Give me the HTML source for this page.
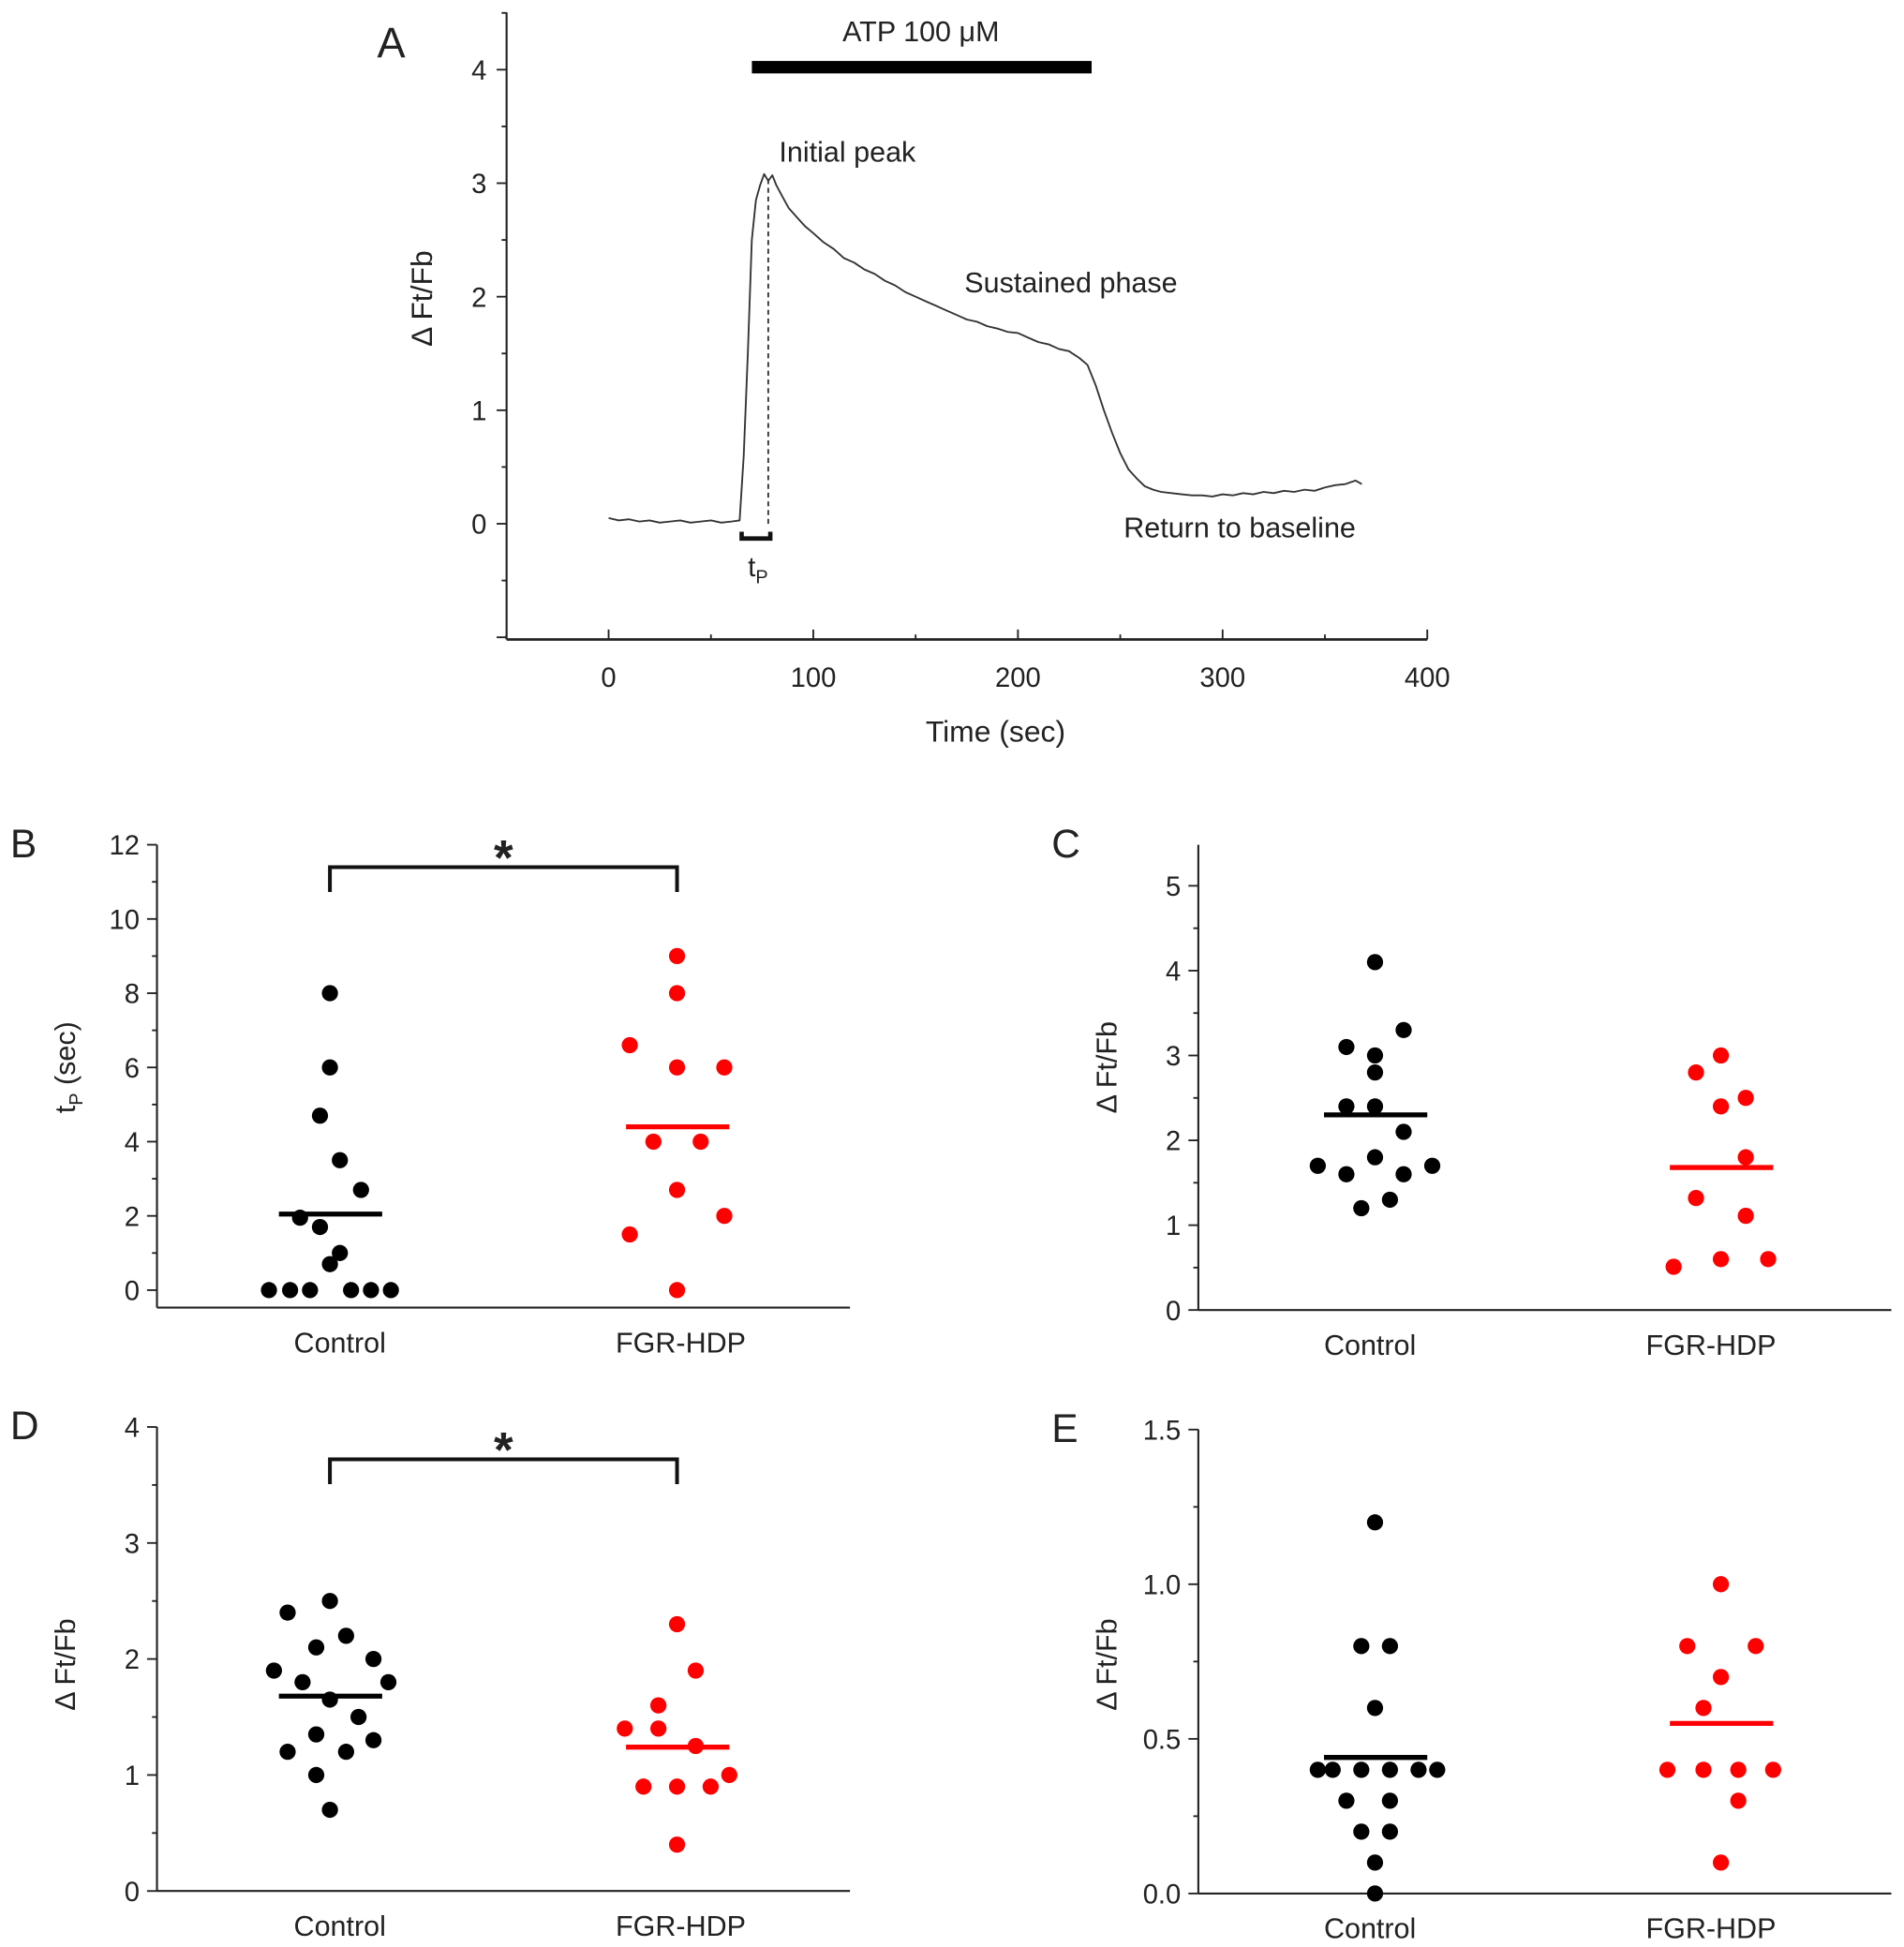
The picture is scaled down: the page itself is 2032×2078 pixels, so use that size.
<!DOCTYPE html>
<html><head><meta charset="utf-8"><style>
html,body{margin:0;padding:0;background:#fff}
svg{display:block}
text{font-family:"Liberation Sans",Arial,sans-serif;fill:#222}
</style></head><body>
<svg id="fig" width="2032" height="2078" viewBox="0 0 1530 1565" xmlns="http://www.w3.org/2000/svg"></svg>
<script>
// ---- Panel A data ----
const traceTimes = [0,5,10,15,20,25,30,35,40,45,50,55,60,64,66,68,70,72,74,76,78,80,82,85,88,92,96,100,105,110,115,120,125,130,135,140,145,150,155,160,165,170,175,180,185,190,195,200,205,210,215,220,225,230,234,238,242,246,250,254,258,262,266,270,275,280,285,290,295,300,305,310,315,320,325,330,335,340,345,350,355,360,365,368];
const traceValues = [0.05,0.03,0.04,0.02,0.03,0.01,0.02,0.03,0.01,0.02,0.03,0.01,0.02,0.03,0.6,1.5,2.5,2.85,2.98,3.08,3.02,3.07,2.98,2.88,2.78,2.7,2.62,2.56,2.48,2.42,2.34,2.3,2.24,2.2,2.14,2.1,2.04,2.0,1.96,1.92,1.88,1.84,1.8,1.78,1.74,1.72,1.69,1.68,1.64,1.6,1.58,1.54,1.52,1.46,1.4,1.22,1.0,0.8,0.62,0.48,0.4,0.33,0.3,0.28,0.27,0.26,0.25,0.25,0.24,0.26,0.25,0.27,0.26,0.28,0.27,0.29,0.28,0.3,0.29,0.32,0.34,0.35,0.38,0.35];
const aXTicks = [0,100,200,300,400];
const aYTicks = [0,1,2,3,4];

// ---- Panel B data (tP sec) ----
const bControl = [0,0,0,0,0,0,0.7,1,1.7,1.95,2.7,3.5,4.7,6,8];
const bControlJitter = [-49,-32,-16,17,33,49,0,8,-8,-24,25,8,-8,0,0];
const bFgr = [9,8,6.6,6,6,4,4,2.7,2,1.5,0];
const bFgrJitter = [0,0,-38,0,38,-19,19,0,38,-38,0];
const bMeans = [2.05,4.4];
const bYTicks = [0,2,4,6,8,10,12];

// ---- Panel C data ----
const cControl = [4.1,3.1,3.3,3.0,2.8,2.4,2.4,2.1,1.7,1.7,1.6,1.8,1.6,1.3,1.2];
const cControlJitter = [0,-23,23,0,0,-23,0,23,-46,46,-23,0,23,12,-11];
const cFgr = [3.0,2.8,2.5,2.4,1.8,1.32,1.11,0.51,0.6,0.6];
const cFgrJitter = [0,-20,20,0,20,-20,20,-38,0,38];
const cMeans = [2.3,1.68];
const cYTicks = [0,1,2,3,4,5];

// ---- Panel D data ----
const dControl = [2.5,2.4,2.2,2.1,1.9,1.8,2.0,1.8,1.65,1.5,1.3,1.35,1.2,1.2,1.0,0.7];
const dControlJitter = [0,-34,13,-11,-45,-22,35,47,0,23,35,-11,-34,13,-11,0];
const dFgr = [2.3,1.9,1.6,1.4,1.4,1.25,1.0,0.9,0.9,0.9,0.4];
const dFgrJitter = [0,15,-15,-42,-15,15,42,-27,0,27,0];
const dMeans = [1.68,1.24];
const dYTicks = [0,1,2,3,4];

// ---- Panel E data ----
const eControl = [1.2,0.8,0.8,0.6,0.4,0.4,0.4,0.4,0.4,0.4,0.3,0.3,0.2,0.2,0.1,0.0];
const eControlJitter = [0,-11,12,0,-46,-34,-11,12,35,50,-23,12,-11,12,0,0];
const eFgr = [1.0,0.8,0.8,0.7,0.6,0.4,0.4,0.4,0.4,0.3,0.1];
const eFgrJitter = [0,-27,28,0,-14,-43,-14,14,42,14,0];
const eMeans = [0.44,0.55];
const eYTicks = [0,0.5,1.0,1.5];

const NS = "http://www.w3.org/2000/svg";
const svg = document.getElementById('fig');
function mk(tag, attrs, parent){const e=document.createElementNS(NS,tag);for(const k in attrs)e.setAttribute(k,attrs[k]);(parent||svg).appendChild(e);return e;}
function txt(s, attrs, parent){const e=mk('text',attrs,parent);e.textContent=s;return e;}
function lin(x1,y1,x2,y2,w,c,parent){return mk('line',{x1,y1,x2,y2,stroke:c||'#222','stroke-width':w||1.6},parent);}

// ---------- Panel A ----------
const gA = mk('g',{});


const ax = t => 489 + (t-0)*(1147-489)/400;
const ay = v => 421 - v*91.25;
lin(407,10,407,514,1.6,'#222',gA);
lin(407,514,1147,514,2,'#222',gA);
for(let v=-1;v<=4.5;v+=0.5){const y=ay(v);if(y<10)continue;const major=Math.abs(v-Math.round(v))<1e-6;lin(407,y,major?399:403,y,1.4,'#222',gA);}
aYTicks.forEach(v=>{const t=txt(String(v),{x:391,y:ay(v)+8,'text-anchor':'end','font-size':22},gA);});
for(let t=-50;t<=400;t+=50){const x=ax(t);const major=t%100===0;lin(x,514,x,major?506:510,1.4,'#222',gA);}
aXTicks.forEach(v=>{const t=txt(String(v),{x:ax(v),y:552,'text-anchor':'middle','font-size':22},gA);});
let tA=txt('Time (sec)',{x:800,y:596,'text-anchor':'middle','font-size':24},gA);

let tyA=txt('Δ Ft/Fb',{x:0,y:0,'text-anchor':'middle','font-size':24,transform:'translate(347,240) rotate(-90)'},gA);

let la=txt('A',{x:303,y:46,'font-size':34},gA);

const tracePts = traceTimes.map((t,i)=>ax(t).toFixed(1)+','+ay(traceValues[i]).toFixed(1)).join(' ');
const tr = mk('polyline',{points:tracePts,fill:'none',stroke:'#333','stroke-width':1.4,'stroke-linejoin':'round'},gA);


const dash = mk('line',{x1:ax(78),y1:ay(0),x2:ax(78),y2:ay(3.05),stroke:'#333','stroke-width':1.4,'stroke-dasharray':'4,3'},gA);


const br = mk('path',{d:`M${ax(65)},${ay(-0.07)} L${ax(65)},${ay(-0.13)} L${ax(79)},${ay(-0.13)} L${ax(79)},${ay(-0.07)}`,fill:'none',stroke:'#111','stroke-width':3.5},gA);


const tp = txt('t',{x:601,y:463,'font-size':22},gA);

const tps = mk('tspan',{dy:6,'font-size':15},tp); tps.textContent='P';
const atp = mk('rect',{x:ax(70),y:49,width:ax(236)-ax(70),height:10,fill:'#000'},gA);


[['ATP 100 μM',740,33,'atp-label','middle'],['Initial peak',626,130,'initial-peak-label','start'],['Sustained phase',775,235,'sustained-phase-label','start'],['Return to baseline',903,432,'return-to-baseline-label','start']].forEach(a=>{const t=txt(a[0],{x:a[1],y:a[2],'font-size':23,'text-anchor':a[4]},gA);});

// ---------- Scatter panels ----------
function scatterPanel(cfg){
  const g = mk('g',{});
  
  
  const yS = v => cfg.y0 - (v-cfg.min)*cfg.unit;
  lin(cfg.ax,cfg.top,cfg.ax,cfg.axisY,1.6,'#222',g);
  lin(cfg.ax,cfg.axisY,cfg.ax+557,cfg.axisY,1.6,'#222',g);
  for(let v=cfg.min; yS(v)>=cfg.top-0.5; v+=cfg.minor){const y=yS(v);const major=Math.abs(v/cfg.major-Math.round(v/cfg.major))<1e-6;lin(cfg.ax,y,cfg.ax-(major?8:4),y,1.4,'#222',g);}
  cfg.ticks.forEach(v=>{const t=txt(cfg.fmt(v),{x:cfg.ax-14,y:yS(v)+8,'text-anchor':'end','font-size':22},g);});
  const t1=txt('Control',{x:cfg.lx[0],y:cfg.axisY+36,'text-anchor':'middle','font-size':23},g);
  
  const t2=txt('FGR-HDP',{x:cfg.lx[1],y:cfg.axisY+36,'text-anchor':'middle','font-size':23},g);
  
  const yt=txt(cfg.ytitle,{x:0,y:0,'text-anchor':'middle','font-size':23,transform:`translate(${cfg.ax-66},${cfg.ymid}) rotate(-90)`},g);
  
  if(cfg.sub){const s=mk('tspan',{dy:6,'font-size':15},yt);s.textContent='P';const s2=mk('tspan',{dy:-6},yt);s2.textContent=' (sec)';}
  const pl=txt(cfg.letter,{x:cfg.ax-118,y:cfg.top+10,'font-size':32},g);
  
  const groups=[[cfg.c,cfg.cj,'#000'],[cfg.f,cfg.fj,'#f00']];
  groups.forEach((gr,gi)=>{
    gr[0].forEach((v,i)=>{
      const c=mk('circle',{cx:cfg.cx[gi]+gr[1][i],cy:yS(v),r:6.5,fill:gr[2]},g);
      
      
    });
    const m=mk('line',{x1:cfg.cx[gi]-41,x2:cfg.cx[gi]+42,y1:yS(cfg.means[gi]),y2:yS(cfg.means[gi]),stroke:gr[2],'stroke-width':4},g);
    
    
  });
  if(cfg.bracket){
    const b=mk('path',{d:`M${cfg.cx[0]},${cfg.bracket+20} L${cfg.cx[0]},${cfg.bracket} L${cfg.cx[1]},${cfg.bracket} L${cfg.cx[1]},${cfg.bracket+20}`,fill:'none',stroke:'#111','stroke-width':3},g);
    
    const st=txt('*',{x:(cfg.cx[0]+cfg.cx[1])/2,y:cfg.bracket+6,'text-anchor':'middle','font-size':40,'font-weight':'bold'},g);
    
  }
}
scatterPanel({name:'panel-b',letter:'B',ax:126,top:679,axisY:1051,y0:1037,min:0,unit:358/12,minor:1,major:2,ticks:bYTicks,fmt:v=>String(v),cx:[265,544],lx:[273,547],c:bControl,cj:bControlJitter,f:bFgr,fj:bFgrJitter,means:bMeans,ytitle:'t',sub:true,ymid:858,bracket:697});
scatterPanel({name:'panel-c',letter:'C',ax:963,top:679,axisY:1053,y0:1053,min:0,unit:68.2,minor:0.5,major:1,ticks:cYTicks,fmt:v=>String(v),cx:[1105,1383],lx:[1101,1375],c:cControl,cj:cControlJitter,f:cFgr,fj:cFgrJitter,means:cMeans,ytitle:'Δ Ft/Fb',ymid:858});
scatterPanel({name:'panel-d',letter:'D',ax:126,top:1147,axisY:1520,y0:1520,min:0,unit:93.25,minor:0.5,major:1,ticks:dYTicks,fmt:v=>String(v),cx:[265,544],lx:[273,547],c:dControl,cj:dControlJitter,f:dFgr,fj:dFgrJitter,means:dMeans,ytitle:'Δ Ft/Fb',ymid:1338,bracket:1173});
scatterPanel({name:'panel-e',letter:'E',ax:963,top:1149,axisY:1522,y0:1522,min:0,unit:248.6,minor:0.25,major:0.5,ticks:eYTicks,fmt:v=>v.toFixed(1),cx:[1105,1383],lx:[1101,1375],c:eControl,cj:eControlJitter,f:eFgr,fj:eFgrJitter,means:eMeans,ytitle:'Δ Ft/Fb',ymid:1338});
</script>
</body></html>
